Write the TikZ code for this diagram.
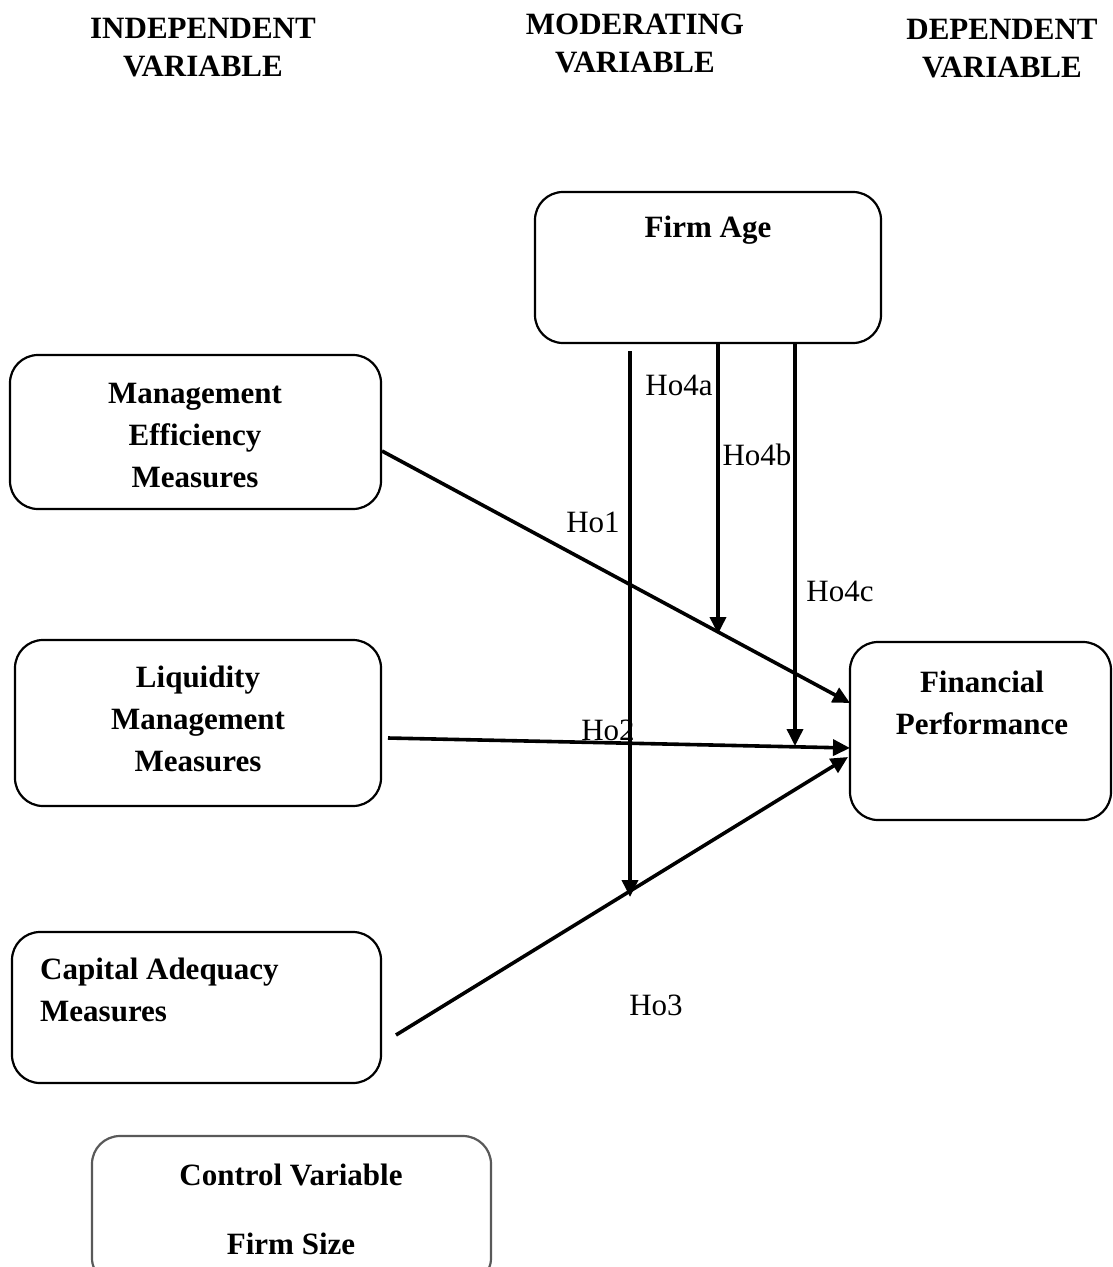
\documentclass[tikz,border=0pt]{standalone}
\usepackage{fontspec}
\setmainfont{Liberation Serif}
\usetikzlibrary{arrows.meta}
\begin{document}
\begin{tikzpicture}[x=1pt,y=-1pt,
  box/.style={draw,line width=2.2pt,rounded corners=28pt,inner sep=0pt},
  lbl/.style={font=\fontsize{31}{42}\selectfont\bfseries,align=center,inner sep=0pt},
  ttl/.style={font=\fontsize{31}{38}\selectfont\bfseries,align=center,inner sep=0pt},
  hyp/.style={font=\fontsize{31}{38}\selectfont,inner sep=0pt},
  arr/.style={line width=3.6pt,-{Triangle[length=17pt,width=16pt]}}]
\useasboundingbox (0,0) rectangle (1112,1267);

% titles
\node[ttl] (t1) at (203,48) {INDEPENDENT\\VARIABLE};
\node[ttl] (t2) at (635,43) {MODERATING\\VARIABLE};
\node[ttl] (t3) at (1002,49) {DEPENDENT\\VARIABLE};

% boxes
\node[box,minimum width=346pt,minimum height=151pt] (age) at (708,267.5) {};
\node[box,minimum width=371pt,minimum height=154pt] (mgmt) at (195.5,432) {};
\node[box,minimum width=366pt,minimum height=166pt] (liq) at (198,723) {};
\node[box,minimum width=369pt,minimum height=151pt] (cap) at (196.5,1007.5) {};
\node[box,minimum width=261pt,minimum height=178pt] (fin) at (980.5,731) {};
\node[box,draw=black!65,minimum width=399pt,minimum height=150pt] (ctrl) at (291.5,1211) {};

% box texts
\node[lbl] (agetxt) at (708,230) {Firm Age};
\node[lbl] (mgmttxt) at (195,436) {Management\\Efficiency\\Measures};
\node[lbl] (liqtxt) at (198,719) {Liquidity\\Management\\Measures};
\node[lbl,align=left,anchor=west] (captxt) at (40,990) {Capital Adequacy\\Measures};
\node[lbl] (fintxt) at (982,703) {Financial\\Performance};
\node[lbl] (ctrltxt1) at (291,1175) {Control Variable};
\node[lbl] (ctrltxt2) at (291,1244) {Firm Size};

% connector points
\coordinate (m1) at (382,451);
\coordinate (m2) at (850,703);
\coordinate (l1) at (388,738);
\coordinate (l2) at (850,748);
\coordinate (c1) at (396,1035);
\coordinate (c2) at (848,757);
\coordinate (v1a) at (630,351);
\coordinate (v1b) at (630,897);
\coordinate (v2a) at (718,344);
\coordinate (v2b) at (718,634);
\coordinate (v3a) at (795,343);
\coordinate (v3b) at (795,746);

\draw[arr] (m1) -- (m2);
\draw[arr] (l1) -- (l2);
\draw[arr] (c1) -- (c2);
\draw[arr] (v1a) -- (v1b);
\draw[arr] (v2a) -- (v2b);
\draw[arr] (v3a) -- (v3b);

% hypothesis labels
\node[hyp] (h1) at (593,522) {Ho1};
\node[hyp] (h2) at (608,730) {Ho2};
\node[hyp] (h3) at (656,1005) {Ho3};
\node[hyp] (h4a) at (679,385) {Ho4a};
\node[hyp] (h4b) at (757,455) {Ho4b};
\node[hyp] (h4c) at (840,591) {Ho4c};
\end{tikzpicture}
\end{document}
